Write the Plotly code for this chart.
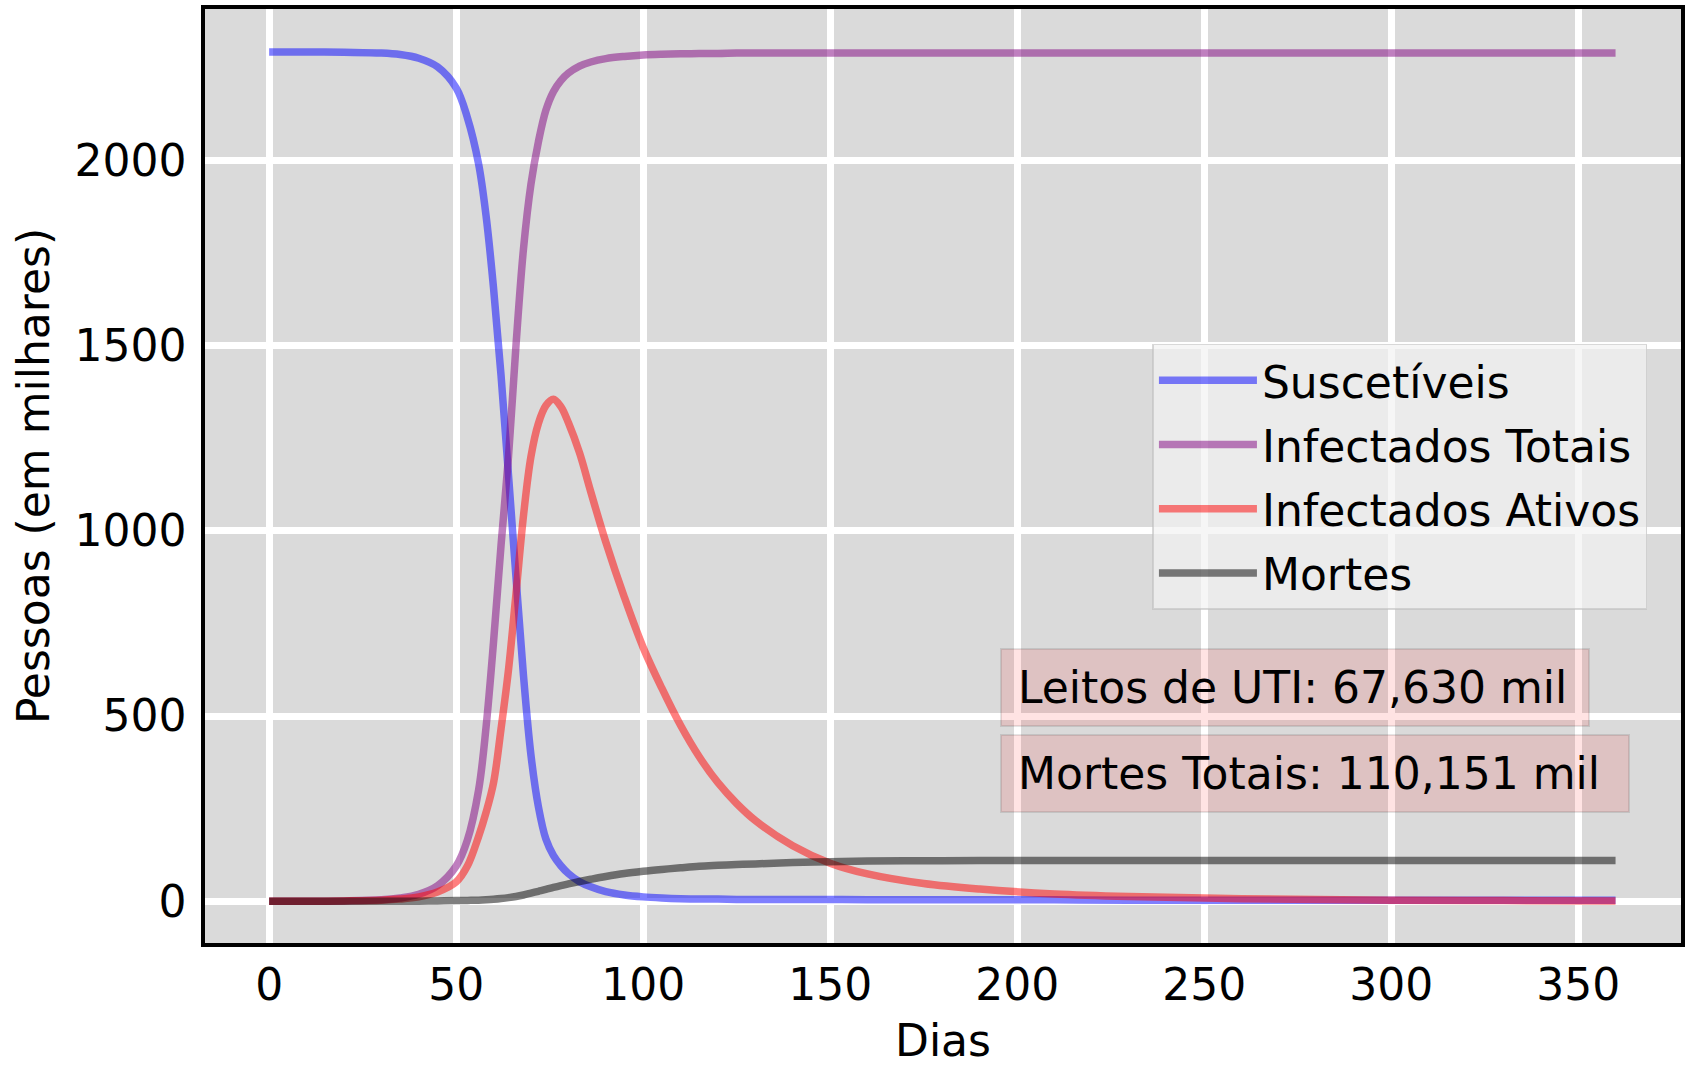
import plotly.graph_objects as go

# ---- data (values in thousands of people) ----
dias = [0, 10, 20, 30, 35, 40, 45, 50, 53, 56, 58, 60, 62, 64, 66, 68, 70, 72,
        74, 76, 78, 80, 83, 86, 90, 95, 100, 105, 110, 115, 120, 125, 130, 140,
        150, 160, 175, 190, 210, 230, 260, 300, 330, 360]

suscetiveis = [2292, 2292, 2291, 2289, 2285, 2275, 2252, 2195, 2115, 1990, 1850,
               1655, 1420, 1150, 875, 610, 395, 255, 168, 124, 96, 75, 53, 39,
               26, 17, 12, 9, 7, 6, 6, 5, 5, 5, 5, 4, 4, 4, 4, 3, 3, 3, 3, 3]

infectados_totais = [0, 0, 1, 4, 9, 19, 42, 95, 165, 300, 470, 700, 960, 1200,
                     1500, 1760, 1935, 2050, 2135, 2185, 2215, 2235, 2254, 2265,
                     2274, 2280, 2284, 2286, 2287, 2288, 2288, 2289, 2289, 2289,
                     2289, 2289, 2289, 2289, 2289, 2289, 2289, 2289, 2289, 2289]

infectados_ativos = [0, 0, 1, 3, 6, 12, 25, 52, 95, 175, 240, 320, 465, 625,
                     830, 1040, 1200, 1290, 1338, 1355, 1335, 1292, 1210, 1105,
                     970, 820, 685, 575, 475, 390, 320, 264, 218, 150, 103, 74,
                     48, 33, 20, 13, 7, 3, 2, 1]

mortes = [0, 0, 0, 0, 0, 0.5, 1, 2, 2.5, 3, 4, 5.5, 7.5, 10, 13, 17, 22, 27,
          32, 37.5, 42.5, 47, 53.5, 59.5, 67, 75, 81, 86, 90.5, 94.5, 97, 99.2,
          101, 104.5, 107, 108.5, 109.5, 110, 110.15, 110.15, 110.15, 110.15,
          110.15, 110.15]

series_names = ["Suscetíveis", "Infectados Totais", "Infectados Ativos", "Mortes"]
series_colors = ["rgba(0,0,255,0.5)", "rgba(128,0,128,0.5)",
                 "rgba(255,0,0,0.5)", "rgba(0,0,0,0.5)"]

x_ticks = [0, 50, 100, 150, 200, 250, 300, 350]
y_ticks = [0, 500, 1000, 1500, 2000]

leitos_uti = "67,630"
mortes_totais = "110,151"

FONT = "DejaVu Sans"
FS = 44

fig = go.Figure()
for name, vals, col in zip(series_names,
                           [suscetiveis, infectados_totais, infectados_ativos, mortes],
                           series_colors):
    fig.add_trace(go.Scatter(
        x=dias, y=vals, mode="lines", name=name, legendgroup=name,
        line=dict(color=col, width=7.5, shape="spline", smoothing=1.0),
    ))

W, H = 1687, 1066
L, R, T, B = 205, 2, 9, 114
pw = W - L - R
ph = H - T - B

def px_x(px):
    return (px - L) / pw

def px_y(py):
    return (H - B - py) / ph

axis_common = dict(
    showgrid=True, gridcolor="white", gridwidth=7,
    showline=True, linecolor="black", linewidth=3.5, mirror=True,
    zeroline=False, ticks="", tickfont=dict(family=FONT, size=FS, color="black"),
)

fig.update_layout(
    width=W, height=H,
    margin=dict(l=L, r=R, t=T, b=B, pad=0),
    paper_bgcolor="white", plot_bgcolor="#DADADA",
    font=dict(family=FONT, size=FS, color="black"),
    xaxis=dict(range=[-17.15, 377.5], tickvals=x_ticks,
               ticktext=[str(v) for v in x_ticks],
               title=dict(text="Dias", font=dict(family=FONT, size=FS), standoff=24),
               ticklabelstandoff=0, **axis_common),
    yaxis=dict(range=[-112.5, 2408], tickvals=y_ticks,
               ticktext=[str(v) for v in y_ticks],
               title=dict(text="Pessoas (em milhares)", font=dict(family=FONT, size=FS), standoff=12),
               ticklabelstandoff=6, **axis_common),
    legend=dict(
        x=px_x(1155), y=px_y(347), xanchor="left", yanchor="top",
        bgcolor="rgba(242,242,242,0.7)", bordercolor="rgba(190,190,190,0.6)",
        borderwidth=1.5, font=dict(family=FONT, size=FS, color="black"),
        itemwidth=98, tracegroupgap=4, traceorder="grouped",
    ),
    showlegend=True,
)

box_style = dict(
    xref="paper", yref="paper", showarrow=False, xanchor="left", yanchor="middle",
    align="left", valign="middle", bgcolor="rgba(255,0,0,0.11)",
    bordercolor="rgba(0,0,0,0.1)", borderwidth=2, borderpad=16,
    font=dict(family=FONT, size=FS, color="black"),
)
fig.add_annotation(text=f"Leitos de UTI: {leitos_uti} mil",
                   x=px_x(1002), y=px_y(694), width=554, height=43, **box_style)
fig.add_annotation(text=f"Mortes Totais: {mortes_totais} mil",
                   x=px_x(1002), y=px_y(781), width=594, height=43, **box_style)

fig.write_html("out.html", config={"displayModeBar": False},
               post_script="document.body.style.margin='0';")
